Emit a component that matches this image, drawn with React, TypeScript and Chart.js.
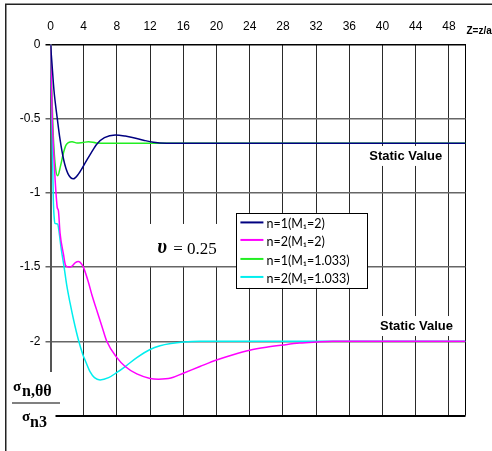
import { useEffect, useRef } from 'react';
import { Chart, registerables } from 'chart.js';

Chart.register(...registerables);

// Axis ticks
const zTicks = [0, 4, 8, 12, 16, 20, 24, 28, 32, 36, 40, 44, 48, 50];
const stressTicks = [0, -0.5, -1, -1.5, -2, -2.5];

// Series labels and colours
const seriesLabels = ['n=1(M\u2081=2)', 'n=2(M\u2081=2)', 'n=1(M\u2081=1.033)', 'n=2(M\u2081=1.033)'];
const seriesColors = ['#000080', '#ff00ff', '#22ee22', '#00eeee'];

// n=1, M1=2
const n1M2Z = [0, 0.14, 0.42, 0.82, 1.15, 1.6, 2.1, 2.75, 3.4, 4.16, 4.9, 5.6, 6.5, 7.8, 9, 10, 11.2, 12.4, 14, 20, 30, 40, 50];
const n1M2S = [0, -0.1, -0.31, -0.5, -0.64, -0.78, -0.87, -0.905, -0.87, -0.8, -0.73, -0.67, -0.628, -0.61, -0.617, -0.628, -0.645, -0.659, -0.665, -0.666, -0.666, -0.666, -0.666];

// n=2, M1=2
const n2M2Z = [0, 0.1, 0.22, 0.45, 0.7, 0.82, 0.95, 1.15, 1.55, 1.83, 2.2, 2.55, 3.0, 3.36, 3.7, 3.96, 4.56, 5.0, 5.57, 6.2, 6.78, 8, 9, 10.4, 12, 13, 14.5, 16, 18, 20, 22, 24, 26, 28, 30, 32, 34, 40, 50];
const n2M2S = [0, -0.25, -0.51, -0.8, -1.03, -1.1, -1.12, -1.27, -1.41, -1.49, -1.5, -1.495, -1.47, -1.463, -1.475, -1.5, -1.6, -1.69, -1.79, -1.9, -2.0, -2.11, -2.17, -2.22, -2.25, -2.255, -2.248, -2.215, -2.17, -2.126, -2.09, -2.06, -2.04, -2.025, -2.012, -2.005, -2.0, -2.0, -2.0];

// n=1, M1=1.033
const n1M1033Z = [0, 0.1, 0.26, 0.34, 0.6, 0.87, 1.2, 1.55, 1.85, 2.15, 2.6, 3.2, 3.9, 4.6, 5.5, 7, 50];
const n1M1033S = [0, -0.2, -0.5, -0.62, -0.83, -0.885, -0.82, -0.733, -0.68, -0.662, -0.655, -0.664, -0.66, -0.655, -0.663, -0.666, -0.666];

// n=2, M1=1.033
const n2M1033Z = [0, 0.1, 0.2, 0.34, 0.45, 0.54, 0.87, 1.0, 1.3, 1.63, 1.95, 2.35, 2.8, 3.36, 3.9, 4.16, 4.76, 5.3, 5.97, 7, 8, 9, 10.4, 12, 13.2, 14.5, 16, 18, 50];
const n2M1033S = [0, -0.35, -0.6, -1.05, -1.17, -1.205, -1.21, -1.25, -1.38, -1.497, -1.62, -1.74, -1.86, -1.99, -2.09, -2.126, -2.205, -2.245, -2.26, -2.245, -2.21, -2.17, -2.11, -2.055, -2.03, -2.015, -2.005, -2.0, -2.0];

const seriesZ = [n1M2Z, n2M2Z, n1M1033Z, n2M1033Z];
const seriesS = [n1M2S, n2M2S, n1M1033S, n2M1033S];

const SANS = '"Liberation Sans", Arial, sans-serif';
const SERIF = '"Liberation Serif", "Times New Roman", serif';
const LEGEND_FONT = 'Lato, "Open Sans", sans-serif';

const overlayPlugin = {
  id: 'overlay',
  beforeDatasetsDraw(chart: any) {
    const { ctx } = chart;
    const x = chart.scales.x;
    const y = chart.scales.y;
    ctx.save();

    // "Static Value" labels with white backing
    const staticLabels = [
      { z: 42.8, s: -0.751 },
      { z: 44.1, s: -1.897 },
    ];
    ctx.font = `bold 13px ${SANS}`;
    ctx.textAlign = 'center';
    ctx.textBaseline = 'middle';
    for (const l of staticLabels) {
      const cx = x.getPixelForValue(l.z);
      const cy = y.getPixelForValue(l.s);
      const w = ctx.measureText('Static Value').width;
      ctx.fillStyle = '#fff';
      ctx.fillRect(cx - w / 2 - 3, cy - 10, w + 6, 20);
      ctx.fillStyle = '#000';
      ctx.fillText('Static Value', cx, cy + 0.5);
    }

    // Poisson ratio label
    const px = x.getPixelForValue(12.85);
    const py = y.getPixelForValue(-1.371);
    ctx.fillStyle = '#fff';
    ctx.fillRect(px - 12, py - 24, 88, 42);
    ctx.fillStyle = '#000';
    ctx.textAlign = 'left';
    ctx.textBaseline = 'alphabetic';
    ctx.font = `bold italic 20px ${SERIF}`;
    ctx.fillText('\u03c5', px, py + 5);
    const uw = ctx.measureText('\u03c5').width;
    ctx.font = `17px ${SERIF}`;
    ctx.fillText(' = 0.25', px + uw + 2, py + 6);

    // Legend box
    const lx = x.getPixelForValue(22.4);
    const ly = y.getPixelForValue(-1.135);
    const lw = 131;
    const lh = 75;
    ctx.fillStyle = '#fff';
    ctx.fillRect(lx, ly, lw, lh);
    ctx.strokeStyle = '#000';
    ctx.lineWidth = 1;
    ctx.strokeRect(Math.round(lx) + 0.5, Math.round(ly) + 0.5, lw, lh);
    const rowY = [11.5, 29, 48, 66];
    ctx.font = `12.5px ${LEGEND_FONT}`;
    ctx.textBaseline = 'middle';
    seriesLabels.forEach((label, i) => {
      const ry = ly + rowY[i];
      ctx.strokeStyle = seriesColors[i];
      ctx.lineWidth = 2;
      ctx.beginPath();
      ctx.moveTo(lx + 4, ry - 2);
      ctx.lineTo(lx + 27, ry - 2);
      ctx.stroke();
      ctx.fillStyle = '#000';
      ctx.fillText(label, lx + 30, ry);
    });

    // Z axis caption
    ctx.font = `bold 10px ${SANS}`;
    ctx.textAlign = 'left';
    ctx.fillText('Z=z/a', chart.chartArea.right + 1, 31);

    // Stress ratio caption in the lower left corner
    const area = chart.chartArea;
    ctx.fillStyle = '#fff';
    ctx.fillRect(7, 372, area.left + 5 - 7, 451 - 372);
    ctx.fillStyle = '#000';
    ctx.textBaseline = 'alphabetic';
    ctx.font = `bold 15px ${SERIF}`;
    ctx.fillText('\u03c3', 13, 391);
    ctx.font = `bold 16px ${SERIF}`;
    ctx.fillText('n,\u03b8\u03b8', 22, 396);
    ctx.strokeStyle = '#808080';
    ctx.lineWidth = 2;
    ctx.beginPath();
    ctx.moveTo(12, 403);
    ctx.lineTo(60, 403);
    ctx.stroke();
    ctx.font = `bold 15px ${SERIF}`;
    ctx.fillText('\u03c3', 22, 421);
    ctx.font = `bold 16px ${SERIF}`;
    ctx.fillText('n3', 30, 427);

    // Outer frame
    ctx.strokeStyle = '#222';
    ctx.lineWidth = 1.5;
    ctx.beginPath();
    ctx.moveTo(5.75, 451);
    ctx.lineTo(5.75, 4.25);
    ctx.lineTo(492, 4.25);
    ctx.stroke();

    ctx.restore();
  },
};

export default function App() {
  const canvasRef = useRef<HTMLCanvasElement | null>(null);

  useEffect(() => {
    const canvas = canvasRef.current;
    if (!canvas) return;
    const chart = new Chart(canvas, {
      type: 'line',
      data: {
        datasets: seriesLabels.map((label, i) => ({
          label,
          data: seriesZ[i].map((z, j) => ({ x: z, y: seriesS[i][j] })),
          borderColor: seriesColors[i],
          backgroundColor: seriesColors[i],
          borderWidth: 1.5,
          pointRadius: 0,
          fill: false,
          cubicInterpolationMode: 'monotone' as const,
        })),
      },
      options: {
        responsive: false,
        animation: false,
        events: [],
        layout: { autoPadding: false, padding: { left: 0, top: 0, right: 26.5, bottom: 35.5 } },
        plugins: { legend: { display: false }, tooltip: { enabled: false } },
        scales: {
          x: {
            type: 'linear',
            position: 'top',
            min: 0,
            max: 50,
            afterBuildTicks: (axis: any) => {
              axis.ticks = zTicks.map((v) => ({ value: v }));
            },
            afterFit: (axis: any) => {
              axis.height = 44.5;
            },
            ticks: {
              autoSkip: false,
              maxRotation: 0,
              padding: 11,
              color: '#000',
              font: { family: SANS, size: 12 },
              callback: (v: any) => (v === 50 ? '' : String(v)),
            },
            grid: {
              drawTicks: false,
              color: (c: any) => (c.tick && c.tick.value === 0 ? 'rgba(0,0,0,0)' : c.tick && c.tick.value === 50 ? '#000' : '#2a2a2a'),
              lineWidth: 1,
            },
            border: { display: true, color: '#000', width: 1 },
          },
          y: {
            type: 'linear',
            min: -2.5,
            max: 0,
            afterBuildTicks: (axis: any) => {
              axis.ticks = stressTicks.map((v) => ({ value: v }));
            },
            afterFit: (axis: any) => {
              axis.width = 50.5;
            },
            ticks: {
              autoSkip: false,
              padding: 5,
              color: '#000',
              font: { family: SANS, size: 12 },
              callback: (v: any) => (v === -2.5 ? '' : String(v)),
            },
            grid: {
              drawTicks: true,
              tickLength: 5,
              color: (c: any) => (c.tick && (c.tick.value === 0 || c.tick.value === -2.5) ? '#000' : '#666'),
              lineWidth: (c: any) => (c.tick && c.tick.value === -2.5 ? 2 : 1.5),
            },
            border: { display: true, color: '#555', width: 2 },
          },
        },
      },
      plugins: [overlayPlugin],
    });
    return () => chart.destroy();
  }, []);

  return (
    <div style={{ position: 'fixed', left: 0, top: 0, width: 492, height: 451, background: '#fff' }}>
      <canvas ref={canvasRef} width={492} height={451} style={{ display: 'block' }} />
    </div>
  );
}
